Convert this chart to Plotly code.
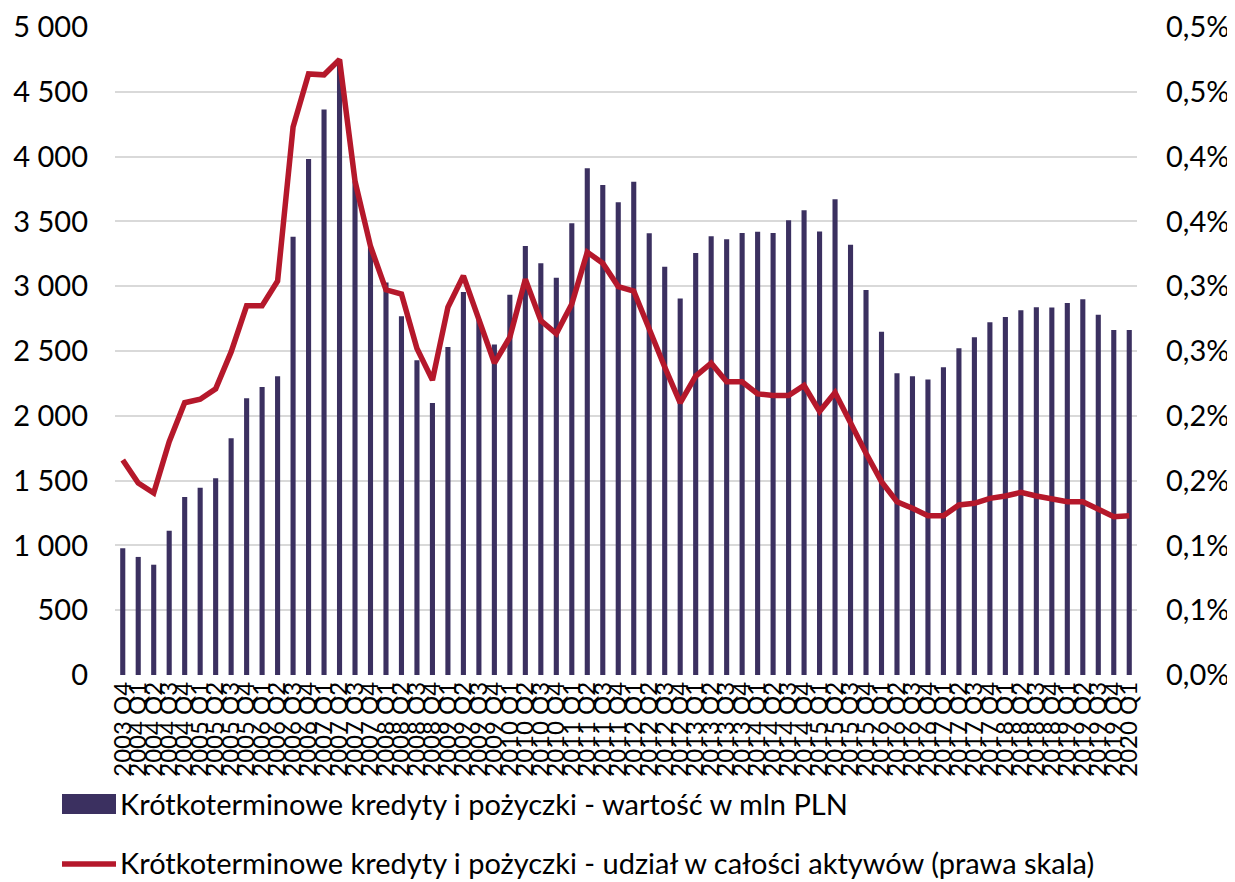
import plotly.graph_objects as go

quarters = [
    "2003 Q4",
    "2004 Q1", "2004 Q2", "2004 Q3", "2004 Q4",
    "2005 Q1", "2005 Q2", "2005 Q3", "2005 Q4",
    "2006 Q1", "2006 Q2", "2006 Q3", "2006 Q4",
    "2007 Q1", "2007 Q2", "2007 Q3", "2007 Q4",
    "2008 Q1", "2008 Q2", "2008 Q3", "2008 Q4",
    "2009 Q1", "2009 Q2", "2009 Q3", "2009 Q4",
    "2010 Q1", "2010 Q2", "2010 Q3", "2010 Q4",
    "2011 Q1", "2011 Q2", "2011 Q3", "2011 Q4",
    "2012 Q1", "2012 Q2", "2012 Q3", "2012 Q4",
    "2013 Q1", "2013 Q2", "2013 Q3", "2013 Q4",
    "2014 Q1", "2014 Q2", "2014 Q3", "2014 Q4",
    "2015 Q1", "2015 Q2", "2015 Q3", "2015 Q4",
    "2016 Q1", "2016 Q2", "2016 Q3", "2016 Q4",
    "2017 Q1", "2017 Q2", "2017 Q3", "2017 Q4",
    "2018 Q1", "2018 Q2", "2018 Q3", "2018 Q4",
    "2019 Q1", "2019 Q2", "2019 Q3", "2019 Q4",
    "2020 Q1",
]

value_mln_pln = [
    978, 911, 851, 1113, 1374, 1444, 1518, 1826, 2135, 2222,
    2305, 3381, 3981, 4363, 4748, 3810, 3300, 3029, 2768, 2429,
    2098, 2530, 2956, 2743, 2551, 2934, 3311, 3177, 3066, 3486,
    3911, 3780, 3648, 3806, 3408, 3151, 2906, 3257, 3386, 3363,
    3411, 3420, 3411, 3508, 3586, 3423, 3671, 3320, 2971, 2649,
    2328, 2305, 2281, 2374, 2521, 2606, 2721, 2762, 2814, 2837,
    2835, 2870, 2899, 2780, 2662, 2662,
]

share_pct = [
    0.1659, 0.1481, 0.1404, 0.1800, 0.2101, 0.2128, 0.2208, 0.2493, 0.2849, 0.2849,
    0.3040, 0.4229, 0.4638, 0.4631, 0.4749, 0.3810, 0.3308, 0.2972, 0.2939, 0.2520,
    0.2275, 0.2838, 0.3080, 0.2734, 0.2406, 0.2606, 0.3054, 0.2734, 0.2634, 0.2863,
    0.3263, 0.3177, 0.2997, 0.2963, 0.2663, 0.2377, 0.2100, 0.2306, 0.2406, 0.2263,
    0.2263, 0.2169, 0.2157, 0.2157, 0.2234, 0.2034, 0.2180, 0.1942, 0.1711, 0.1492,
    0.1337, 0.1286, 0.1229, 0.1229, 0.1312, 0.1325, 0.1363, 0.1381, 0.1409, 0.1381,
    0.1355, 0.1337, 0.1337, 0.1278, 0.1222, 0.1229,
]

left_ticks = [0, 500, 1000, 1500, 2000, 2500, 3000, 3500, 4000, 4500, 5000]
left_ticktext = ["0", "500", "1 000", "1 500", "2 000", "2 500", "3 000",
                 "3 500", "4 000", "4 500", "5 000"]
right_ticks = [0, 0.05, 0.10, 0.15, 0.20, 0.25, 0.30, 0.35, 0.40, 0.45, 0.50]
right_ticktext = ["0,0%", "0,1%", "0,1%", "0,2%", "0,2%", "0,3%", "0,3%",
                  "0,4%", "0,4%", "0,5%", "0,5%"]

legend_bar = "Krótkoterminowe kredyty i pożyczki - wartość w mln PLN"
legend_line = "Krótkoterminowe kredyty i pożyczki - udział w całości aktywów (prawa skala)"

BAR_COLOR = "#3B3060"
LINE_COLOR = "#B5182B"
GRID = "#D9D9D9"
FONT = "Lato"

fig = go.Figure()
fig.add_trace(go.Bar(x=quarters, y=value_mln_pln, marker_color=BAR_COLOR,
                     marker_line_width=0, name=legend_bar, yaxis="y"))
fig.add_trace(go.Scatter(x=quarters, y=share_pct, mode="lines",
                         line=dict(color=LINE_COLOR, width=5.5),
                         name=legend_line, yaxis="y2"))

# page body has an 8px margin: the figure starts at page (8, 8)
OFF = 8
W, H = 1235 - OFF, 882 - OFF
PL, PT, PR, PB = 115, 27, 1137, 675  # plot area in page pixels
L, T = PL - OFF, PT - OFF
R, B = W - (PR - OFF), H - (PB - OFF)
pw, ph = PR - PL, PB - PT

def px(x):
    return (x - PL) / pw

def py(y):
    return (PB - y) / ph

fig.update_layout(
    width=W, height=H,
    margin=dict(l=L, r=R, t=T, b=B, autoexpand=False),
    paper_bgcolor="white", plot_bgcolor="white",
    font=dict(family=FONT, color="black"),
    showlegend=False,
    bargap=0.67,
    xaxis=dict(type="category", tickangle=-90, tickfont=dict(size=24),
               showgrid=False, showline=False, ticks="", tickmode="linear",
               dtick=1, ticklabelstandoff=1, automargin=False),
    yaxis=dict(range=[0, 5000], tickvals=left_ticks, ticktext=left_ticktext,
               tickfont=dict(size=29), showgrid=True, gridcolor=GRID,
               gridwidth=1.5, zeroline=False, showline=False, ticks="",
               ticklabelstandoff=26, automargin=False),
    yaxis2=dict(range=[0, 0.5], tickvals=right_ticks, ticktext=right_ticktext,
                tickfont=dict(size=29), overlaying="y", side="right",
                showgrid=False, zeroline=False, showline=False, ticks="",
                ticklabelstandoff=28, automargin=False),
    shapes=[
        dict(type="rect", xref="paper", yref="paper",
             x0=px(62), x1=px(116), y0=py(814), y1=py(794),
             fillcolor=BAR_COLOR, line=dict(width=0)),
        dict(type="line", xref="paper", yref="paper",
             x0=px(62), x1=px(116), y0=py(864), y1=py(864),
             line=dict(color=LINE_COLOR, width=5.5)),
    ],
    annotations=[
        dict(text=legend_bar, xref="paper", yref="paper", x=px(118), y=py(804),
             xanchor="left", yanchor="middle", showarrow=False,
             font=dict(size=29, family=FONT)),
        dict(text=legend_line, xref="paper", yref="paper", x=px(118), y=py(862),
             xanchor="left", yanchor="middle", showarrow=False,
             font=dict(size=29, family=FONT)),
    ],
)

fig.write_html("out.html")
